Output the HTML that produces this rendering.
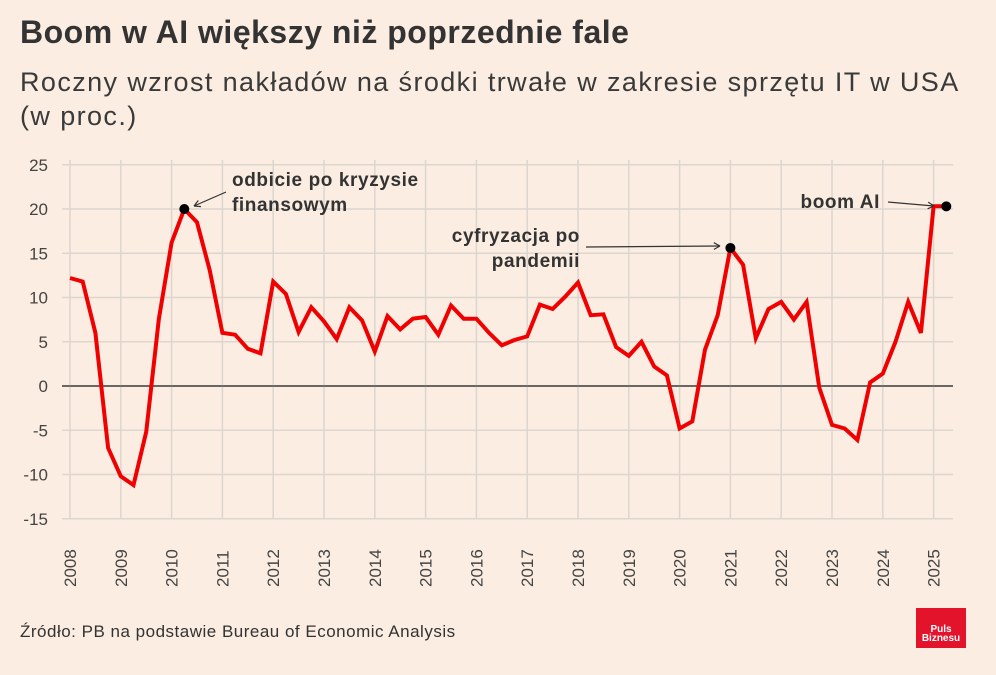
<!DOCTYPE html>
<html><head><meta charset="utf-8">
<style>
html,body{margin:0;padding:0;background:#fbede1;}
body{width:996px;height:675px;position:relative;overflow:hidden;font-family:"Liberation Sans",sans-serif;color:#333;}
.t{position:absolute;left:20px;top:14px;font-size:32px;letter-spacing:0.5px;font-weight:bold;color:#333;margin:0;}
.s{position:absolute;left:20px;top:65px;font-size:27px;letter-spacing:1.4px;line-height:34px;color:#3a3a3a;width:970px;white-space:nowrap;}
.src{position:absolute;left:20px;top:622px;font-size:17px;letter-spacing:0.5px;color:#333;}
.logo{position:absolute;left:916px;top:608px;width:50px;height:40px;background:#e3132c;color:#fff;font-size:10px;font-weight:bold;line-height:9px;text-align:center;}
svg{position:absolute;left:0;top:0;}
</style></head><body>
<h1 class="t">Boom w AI większy niż poprzednie fale</h1>
<div class="s">Roczny wzrost nakładów na środki trwałe w zakresie sprzętu IT w USA<br>(w proc.)</div>
<svg id="c" width="996" height="675"></svg>
<div class="src">Źródło: PB na podstawie Bureau of Economic Analysis</div>
<div class="logo"><div style="padding-top:17px">Puls<br>Biznesu</div></div>
<script>
const years=[2008,2009,2010,2011,2012,2013,2014,2015,2016,2017,2018,2019,2020,2021,2022,2023,2024,2025];
const yTicks=[25,20,15,10,5,0,-5,-10,-15];
const values=[12.2,11.8,6.0,-7.0,-10.2,-11.2,-5.2,7.6,16.2,20.0,18.5,13.1,6.0,5.8,4.2,3.7,11.8,10.4,6.1,8.9,7.3,5.3,8.9,7.4,3.9,7.9,6.4,7.6,7.8,5.8,9.1,7.6,7.6,6.0,4.6,5.2,5.6,9.2,8.7,10.1,11.7,8.0,8.1,4.4,3.4,5.0,2.2,1.2,-4.8,-4.0,4.1,8.0,15.6,13.7,5.4,8.7,9.5,7.5,9.5,-0.2,-4.4,-4.8,-6.1,0.4,1.4,5.0,9.5,6.0,20.3,20.3];
const startYear=2008;
const annotations=[{i:9,label:["odbicie po kryzysie","finansowym"]},{i:52,label:["cyfryzacja po","pandemii"]},{i:69,label:["boom AI"]}];
const NS="http://www.w3.org/2000/svg";
const svg=document.getElementById('c');
const X=t=>70+(t-2008)*50.8;
const Y=v=>386-v*8.85;
function el(tag,attrs,parent){const e=document.createElementNS(NS,tag);for(const k in attrs)e.setAttribute(k,attrs[k]);(parent||svg).appendChild(e);return e;}
yTicks.forEach(v=>{
  const l=el('line',{x1:62,x2:953,y1:Y(v),y2:Y(v),stroke:v===0?'#333':'#dcd6cf','stroke-width':v===0?1.3:1.5});
  
  
  const t=el('text',{x:48,y:Y(v)+6,'text-anchor':'end','font-size':17,fill:'#444','font-family':'Liberation Sans, sans-serif'});
  t.textContent=v;
  
  
});
years.forEach(yr=>{
  const l=el('line',{x1:X(yr),x2:X(yr),y1:160,y2:519,stroke:'#dcd6cf','stroke-width':1.5});
  
  
  const t=el('text',{x:0,y:0,transform:`translate(${X(yr)+6},587) rotate(-90)`,'font-size':17,fill:'#444','font-family':'Liberation Sans, sans-serif'});
  t.textContent=yr;
  
  
});
const z=el('line',{x1:62,x2:953,y1:Y(0),y2:Y(0),stroke:'#333','stroke-width':1.3});


const pts=values.map((v,i)=>X(startYear+i/4).toFixed(1)+','+Y(v).toFixed(1)).join(' ');
const line=el('polyline',{points:pts,fill:'none',stroke:'#f00000','stroke-width':4,'stroke-linejoin':'miter'});


const ann=[
 {tx:232,ty:186,anchor:'start',ax1:226,ay1:192,ax2:194,ay2:206},
 {tx:580,ty:242,anchor:'end',ax1:586,ay1:247,ax2:720,ay2:246},
 {tx:880,ty:208,anchor:'end',ax1:888,ay1:202,ax2:934,ay2:206}
];
annotations.forEach((a,k)=>{
  const v=values[a.i],cx=X(startYear+a.i/4),cy=Y(v),p=ann[k];
  const d=el('circle',{cx:cx,cy:cy,r:5,fill:'#000'});
  
  
  const ar=el('line',{x1:p.ax1,y1:p.ay1,x2:p.ax2,y2:p.ay2,stroke:'#333','stroke-width':1.2});
  
  
  const ang=Math.atan2(p.ay2-p.ay1,p.ax2-p.ax1);
  [0.5,-0.5].forEach(o=>{
    const h=el('line',{x1:p.ax2,y1:p.ay2,x2:p.ax2-7*Math.cos(ang+o),y2:p.ay2-7*Math.sin(ang+o),stroke:'#333','stroke-width':1.2});
    
    
  });
  a.label.forEach((s,j)=>{
    const t=el('text',{x:p.tx,y:p.ty+j*25,'text-anchor':p.anchor,'font-size':19,'letter-spacing':0.6,'font-weight':'bold',fill:'#333','font-family':'Liberation Sans, sans-serif'});
    t.textContent=s;
    
    
  });
});
</script>
</body></html>
